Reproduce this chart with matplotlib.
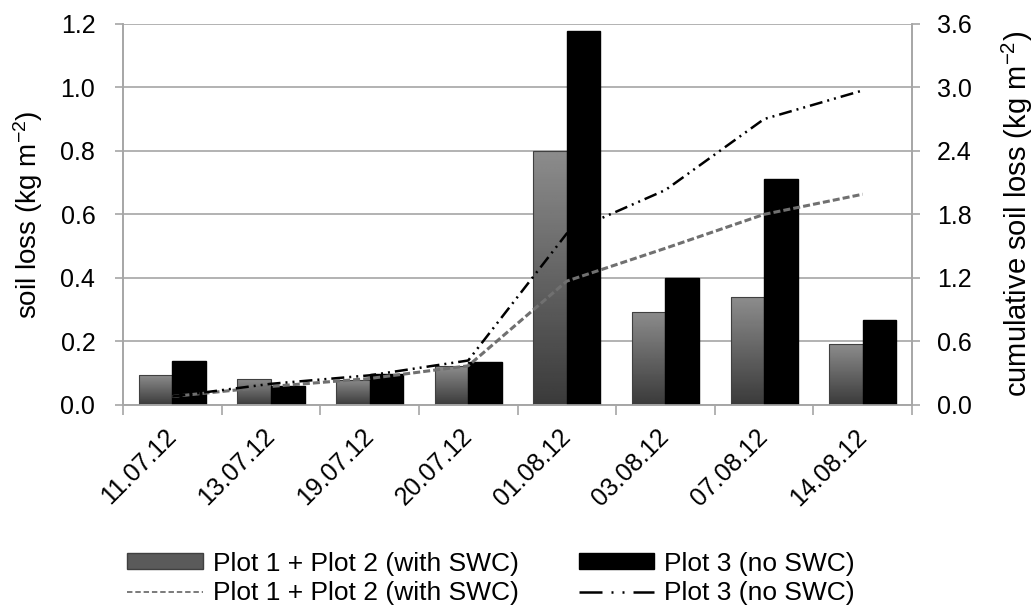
import numpy as np
import matplotlib.pyplot as plt
import matplotlib.transforms as mtransforms
from matplotlib.lines import Line2D
from matplotlib.patches import Patch

plt.rcParams['font.family'] = ['Liberation Sans', 'DejaVu Sans']
plt.rcParams['mathtext.default'] = 'regular'

dates = ['11.07.12', '13.07.12', '19.07.12', '20.07.12',
         '01.08.12', '03.08.12', '07.08.12', '14.08.12']
loss_swc = [0.094, 0.081, 0.079, 0.122, 0.80, 0.293, 0.339, 0.192]
loss_noswc = [0.139, 0.060, 0.099, 0.134, 1.178, 0.401, 0.711, 0.267]
cum_swc = [0.08, 0.175, 0.25, 0.37, 1.17, 1.48, 1.80, 1.99]
cum_noswc = [0.08, 0.20, 0.28, 0.42, 1.62, 2.03, 2.70, 2.97]

lab_swc = 'Plot 1 + Plot 2 (with SWC)'
lab_noswc = 'Plot 3 (no SWC)'
grid_c = '#a6a6a6'
dash_swc = (0, (2.3, 1.0))
dash_noswc = (0, (5.2, 2, 0.8, 2, 0.8, 2))

fig = plt.figure(figsize=(10.34, 6.09), dpi=100)
ax = fig.add_axes([0.119, 0.335, 0.763, 0.626])
ax2 = ax.twinx()

x = np.arange(len(dates))
w = 0.34
bars1 = ax.bar(x - w / 2, loss_swc, w, color='none', edgecolor='#404040', linewidth=0.8, zorder=3)
bars2 = ax.bar(x + w / 2, loss_noswc, w, color='black', edgecolor='black', zorder=3)

# gray bars: light at the top, dark at the bottom
grad = np.linspace(0.55, 0.23, 100).reshape(-1, 1)
for b in bars1:
    im = ax.imshow(grad, cmap='gray', vmin=0, vmax=1, aspect='auto',
                   extent=[b.get_x(), b.get_x() + b.get_width(), 0, b.get_height()],
                   zorder=2.5, interpolation='bilinear')
    im.set_clip_path(b)

ax.set_xlim(-0.5, len(dates) - 0.5)
ax.set_ylim(0, 1.2)
ax.set_yticks(np.arange(0, 1.21, 0.2))
ax.set_yticklabels([f'{v:.1f}' for v in np.arange(0, 1.21, 0.2)])
ax.grid(axis='y', color=grid_c, linewidth=1.2, zorder=0)
ax.set_axisbelow(True)

ax2.set_ylim(0, 3.6)
ax2.set_yticks(np.arange(0, 3.61, 0.6))
ax2.set_yticklabels([f'{v:.1f}' for v in np.arange(0, 3.61, 0.6)])
ax2.plot(x, cum_swc, color='#707070', linewidth=2.2, linestyle=dash_swc, zorder=4)
ax2.plot(x, cum_noswc, color='black', linewidth=1.8, linestyle=dash_noswc, zorder=4)

ax.set_xticks(x)
ax.set_xticklabels(dates, rotation=45, ha='right', va='center', rotation_mode='anchor')
shift = mtransforms.ScaledTranslation(-10 / 72, -5 / 72, fig.dpi_scale_trans)
for lbl in ax.get_xticklabels():
    lbl.set_transform(lbl.get_transform() + shift)
ax.set_xticks(np.arange(-0.5, len(dates)), minor=True)
ax.tick_params(axis='x', which='major', length=0, labelsize=18, pad=20)
ax.tick_params(axis='x', which='minor', length=7, color=grid_c, width=1.2)
ax.tick_params(axis='y', labelsize=18, length=6, color=grid_c, width=1.2, pad=14)
ax2.tick_params(axis='y', labelsize=18, length=6, color=grid_c, width=1.2, pad=12)

for a in (ax, ax2):
    for s in a.spines.values():
        s.set_color(grid_c)
        s.set_linewidth(1.2)
    a.spines['top'].set_visible(False)

ax.set_ylabel('soil loss (kg m$^{-2}$)', fontsize=20, labelpad=11)
ax2.set_ylabel('cumulative soil loss (kg m$^{-2}$)', fontsize=21, labelpad=20)

handles = [Patch(facecolor='#5a5a5a', edgecolor='#404040'),
           Line2D([], [], color='#707070', linewidth=1.3, linestyle=(0, (3, 1.6))),
           Patch(facecolor='black', edgecolor='black'),
           Line2D([], [], color='black', linewidth=1.8, linestyle=(0, (9.2, 3.6, 0.8, 3.6, 0.8, 3.6)))]
labels = [lab_swc, lab_swc, lab_noswc, lab_noswc]
fig.legend(handles, labels, ncol=2, loc='center', bbox_to_anchor=(0.475, 0.05),
           frameon=False, fontsize=19, handlelength=2.85, handletextpad=0.38,
           columnspacing=2.3, labelspacing=0.22, handleheight=0.55,
           borderpad=0, borderaxespad=0)

fig.savefig('out.png', dpi=100)
